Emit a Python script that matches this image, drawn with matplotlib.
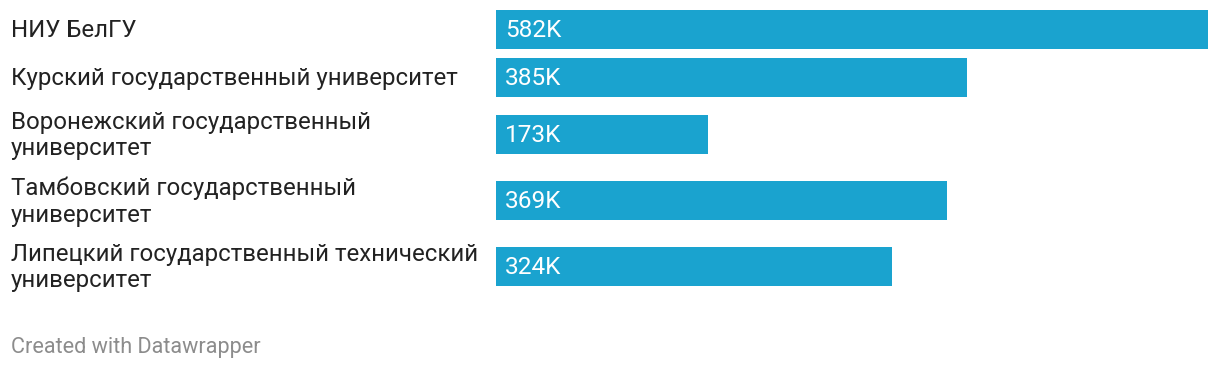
import matplotlib.pyplot as plt

# Data
universities = [
    "НИУ БелГУ",
    "Курский государственный университет",
    "Воронежский государственный\nуниверситет",
    "Тамбовский государственный\nуниверситет",
    "Липецкий государственный технический\nуниверситет",
]
values = [582, 385, 173, 369, 324]  # thousands
value_labels = ["582K", "385K", "173K", "369K", "324K"]

W, H = 1220, 372
BAR_COLOR = "#1aa3cf"
TEXT_COLOR = "#222222"

plt.rcParams["font.family"] = ["Roboto", "DejaVu Sans"]

fig = plt.figure(figsize=(W / 100, H / 100), dpi=100)
fig.patch.set_facecolor("white")

# axes: bars run from x=496 px to 1208 px for the max value
ax_left, ax_right = 496, 1208
ax = fig.add_axes([ax_left / W, 0, (ax_right - ax_left) / W, 1])
ax.set_xlim(0, max(values))
ax.set_ylim(H, 0)  # y in pixel rows from top
ax.axis("off")

# row layout: one-line rows are 48 px tall, two-line rows 66 px
row_h = {1: 48, 2: 66}
centers = []
y = 5.5
for lab in universities:
    h = row_h[lab.count("\n") + 1]
    centers.append(y + h / 2)
    y += h

bar_h = 39
ax.barh(centers, values, height=bar_h, color=BAR_COLOR, left=0)

for c, lab, vl in zip(centers, universities, value_labels):
    fig.text(11 / W, 1 - (c + 1) / H, lab, ha="left", va="center",
             fontsize=17.3, color=TEXT_COLOR, linespacing=1.2)
    ax.text(9 * max(values) / (ax_right - ax_left), c + 1, vl,
            ha="left", va="center", fontsize=17.6, color="white")

fig.text(11 / W, 1 - 347 / H, "Created with Datawrapper", ha="left",
         va="center", fontsize=15.6, color="#8c8c8c")

fig.savefig("out.png", dpi=100, facecolor="white")
